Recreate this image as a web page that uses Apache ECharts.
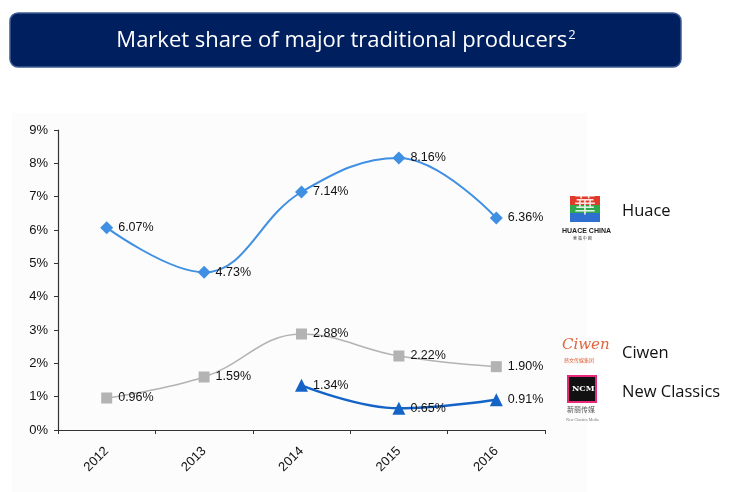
<!DOCTYPE html>
<html>
<head>
<meta charset="utf-8">
<script src="https://cdn.jsdelivr.net/npm/echarts@6/dist/echarts.min.js"></script>
<style>
  html, body { margin: 0; padding: 0; background: #fff; }
  #chart { width: 736px; height: 492px; }
</style>
</head>
<body>
<div id="chart"></div>
<script>
const years = ["2012", "2013", "2014", "2015", "2016"];
const huace = [6.07, 4.73, 7.14, 8.16, 6.36];
const ciwen = [0.96, 1.59, 2.88, 2.22, 1.90];
const newClassics = [null, null, 1.34, 0.65, 0.91];
const yTicks = [0, 1, 2, 3, 4, 5, 6, 7, 8, 9];

const chart = echarts.init(document.getElementById("chart"));
const labelFont = { fontFamily: "Liberation Sans", fontSize: 12.5, color: "#111" };

function pct(p) {
  return p.value == null ? "" : p.value.toFixed(2) + "%";
}

chart.setOption({
  animation: false,
  backgroundColor: "#fff",
  graphic: [
    { type: "rect", z: -10, shape: { x: 12, y: 113, width: 575, height: 379 }, style: { fill: "#fcfcfc" } },
    {
      type: "rect",
      shape: { x: 10, y: 13, width: 671, height: 54, r: 8 },
      style: { fill: "#001f5f", stroke: "#3d5c94", lineWidth: 1.5 }
    },
    {
      type: "text", x: 346, y: 41,
      style: {
        text: "{t|Market share of major traditional producers}{s|2}",
        align: "center", verticalAlign: "middle",
        rich: {
          t: { fontFamily: "Open Sans", fontSize: 22, fill: "#fff" },
          s: { fontFamily: "Open Sans", fontSize: 13, fill: "#fff", verticalAlign: "top", padding: [0, 0, 12, 1] }
        }
      }
    },
    // Huace logo
    { type: "rect", shape: { x: 570, y: 196, width: 30, height: 9 }, style: { fill: "#e03a2a" } },
    { type: "rect", shape: { x: 570, y: 205, width: 30, height: 8 }, style: { fill: "#2ea84a" } },
    { type: "rect", shape: { x: 570, y: 213, width: 30, height: 9 }, style: { fill: "#2f6fd0" } },
    { type: "text", left: 574, top: 193, style: { text: "華", fontSize: 22, fill: "#fff", fontFamily: "Noto Sans CJK SC", opacity: 0.85 } },
    { type: "text", left: 562, top: 228, style: { text: "HUACE CHINA", fontSize: 7, fontWeight: "bold", fill: "#222", fontFamily: "Liberation Sans" } },
    { type: "text", left: 573, top: 236, style: { text: "華 策 中 國", fontSize: 4, fill: "#444", fontFamily: "Noto Sans CJK SC" } },
    // Ciwen logo
    { type: "text", left: 562, top: 338, style: { text: "Ciwen", fontSize: 15, fontStyle: "italic", fill: "#e0643c", fontFamily: "DejaVu Serif" } },
    { type: "text", left: 564, top: 358, style: { text: "慈文传媒集团", fontSize: 5, fill: "#e0643c", fontFamily: "Noto Sans CJK SC" } },
    // NCM logo
    { type: "rect", shape: { x: 568, y: 376, width: 28, height: 26 }, style: { fill: "#111", stroke: "#e8287a", lineWidth: 2 } },
    { type: "text", left: 572, top: 385, style: { text: "NCM", fontSize: 8, fontWeight: "bold", fill: "#fff", fontFamily: "DejaVu Serif" } },
    { type: "text", left: 567, top: 406, style: { text: "新丽传媒", fontSize: 7, fill: "#555", fontFamily: "Noto Sans CJK SC" } },
    { type: "text", left: 566, top: 418, style: { text: "New Classics Media", fontSize: 4, fill: "#777", fontFamily: "Liberation Serif" } },
    // legend labels
    { type: "text", x: 622, y: 211, style: { text: "Huace", fontSize: 16.5, fill: "#111", fontFamily: "Open Sans", verticalAlign: "middle" } },
    { type: "text", x: 622, y: 353, style: { text: "Ciwen", fontSize: 16.5, fill: "#111", fontFamily: "Open Sans", verticalAlign: "middle" } },
    { type: "text", x: 622, y: 392, style: { text: "New Classics", fontSize: 16.5, fill: "#111", fontFamily: "Open Sans", verticalAlign: "middle" } }
  ],
  grid: { left: 58, right: 191, top: 130, bottom: 62 },
  xAxis: {
    type: "category",
    data: years,
    boundaryGap: true,
    axisLine: { lineStyle: { color: "#333", width: 1.2 } },
    axisTick: { show: true, length: 4, inside: false, lineStyle: { color: "#333" } },
    axisLabel: { rotate: 45, margin: 19, ...labelFont, fontSize: 13 }
  },
  yAxis: {
    type: "value",
    min: yTicks[0],
    max: yTicks[yTicks.length - 1],
    interval: 1,
    splitLine: { show: false },
    axisLine: { show: true, lineStyle: { color: "#333", width: 1.2 } },
    axisTick: { show: true, length: 4, lineStyle: { color: "#333" } },
    axisLabel: { formatter: v => v + "%", margin: 10, ...labelFont, fontSize: 13 }
  },
  series: [
    {
      name: "Huace", type: "line", data: huace, smooth: 0.4,
      symbol: "diamond", symbolSize: 13,
      lineStyle: { color: "#3f8fe3", width: 2 },
      itemStyle: { color: "#3f8fe3" },
      label: { show: true, position: "right", distance: 5, formatter: pct, ...labelFont }
    },
    {
      name: "Ciwen", type: "line", data: ciwen, smooth: 0.4,
      symbol: "rect", symbolSize: 11,
      lineStyle: { color: "#b3b3b3", width: 1.5 },
      itemStyle: { color: "#b3b3b3" },
      label: { show: true, position: "right", distance: 6, formatter: pct, ...labelFont }
    },
    {
      name: "New Classics", type: "line", data: newClassics, smooth: 0.4,
      symbol: "triangle", symbolSize: 13,
      lineStyle: { color: "#1464c8", width: 2.5 },
      itemStyle: { color: "#1464c8" },
      label: { show: true, position: "right", distance: 5, formatter: pct, ...labelFont }
    }
  ]
});
</script>
</body>
</html>
